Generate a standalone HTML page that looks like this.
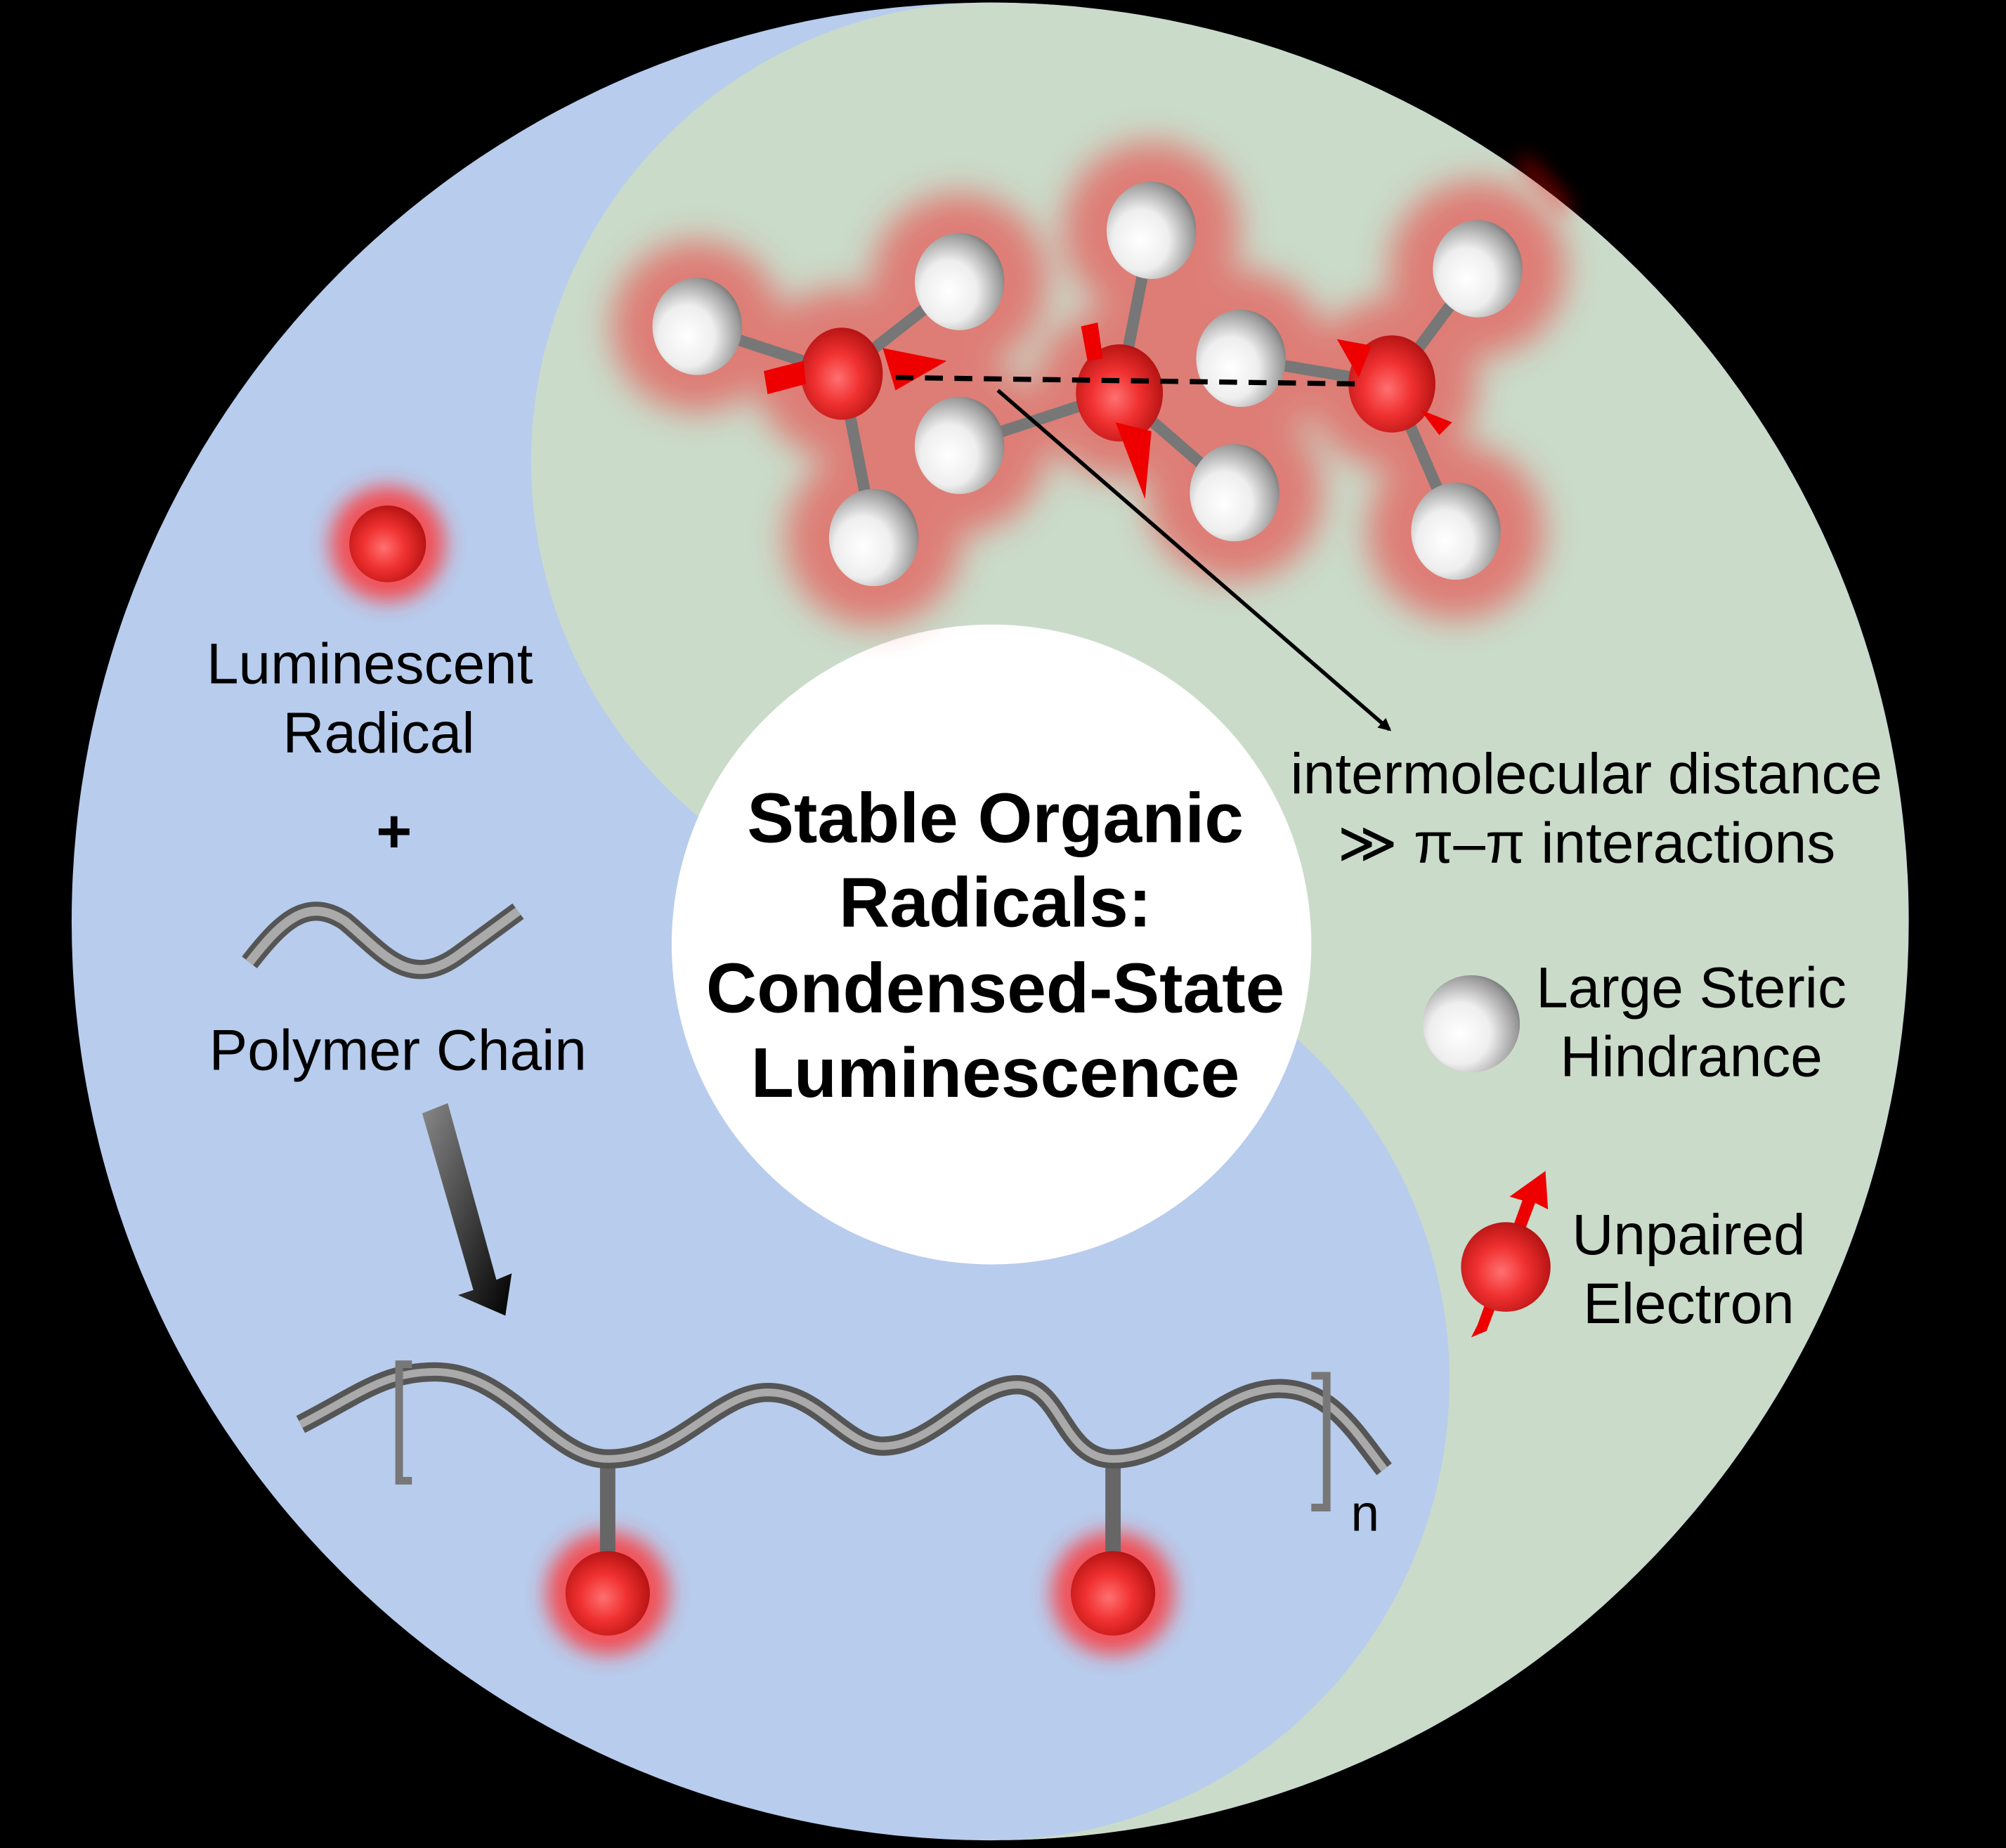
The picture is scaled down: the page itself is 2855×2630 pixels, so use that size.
<!DOCTYPE html>
<html><head><meta charset="utf-8"><style>
html,body{margin:0;padding:0;background:#000;}
svg{display:block;}
text{font-family:"Liberation Sans",Arial,sans-serif;fill:#000;}
</style></head><body>
<svg width="2855" height="2630" viewBox="0 0 1568 1444" preserveAspectRatio="none" xmlns="http://www.w3.org/2000/svg">
<defs>
<radialGradient id="wg" cx="0.38" cy="0.6" r="0.7"><stop offset="0" stop-color="#fff"/><stop offset="0.45" stop-color="#eee"/><stop offset="0.85" stop-color="#999"/><stop offset="1" stop-color="#666"/></radialGradient>
<radialGradient id="rg" cx="0.45" cy="0.55" r="0.7"><stop offset="0" stop-color="#ff7070"/><stop offset="0.4" stop-color="#f03030"/><stop offset="0.85" stop-color="#b01010"/><stop offset="1" stop-color="#700"/></radialGradient>
<linearGradient id="bigarr" x1="0" y1="0" x2="1" y2="1"><stop offset="0" stop-color="#888"/><stop offset="1" stop-color="#000"/></linearGradient>
<filter id="blur" x="-50%" y="-50%" width="200%" height="200%"><feGaussianBlur stdDeviation="13"/></filter>
<filter id="blur2" x="-50%" y="-50%" width="200%" height="200%"><feGaussianBlur stdDeviation="8"/></filter>
<marker id="ah" markerWidth="10" markerHeight="10" refX="8" refY="5" orient="auto" markerUnits="userSpaceOnUse"><path d="M0,0 L10,5 L0,10 Z" fill="#000"/></marker>
</defs>
<rect width="1568" height="1444" fill="#000"/>
<circle cx="774" cy="720" r="718" fill="#b8cced"/>
<path d="M774,2 A718,718 0 0 1 774,1438 A359,359 0 0 0 774,720 A359,359 0 0 1 774,2 Z" fill="#cadbca"/>
<path d="M1190,125 A718,718 0 0 1 1225,165" stroke="#f00" stroke-width="5" fill="none" filter="url(#blur2)"/>
<circle cx="775" cy="738" r="250" fill="#fff"/>

<g filter="url(#blur)" opacity="0.55" stroke="#ee3333" fill="#ee3333" stroke-width="50" stroke-linecap="round">
<line x1="545" y1="255" x2="658" y2="292"/><line x1="658" y1="292" x2="750" y2="220"/><line x1="658" y1="292" x2="683" y2="420"/>
<line x1="750" y1="348" x2="875" y2="307"/><line x1="875" y1="307" x2="900" y2="180"/><line x1="875" y1="307" x2="965" y2="385"/>
<line x1="1088" y1="300" x2="1155" y2="210"/><line x1="1088" y1="300" x2="1138" y2="415"/><line x1="970" y1="280" x2="1088" y2="300"/>
<circle cx="545" cy="255" r="42"/><circle cx="750" cy="220" r="44"/><circle cx="900" cy="180" r="44"/><circle cx="1155" cy="210" r="44"/>
<circle cx="970" cy="280" r="44"/><circle cx="750" cy="348" r="44"/><circle cx="683" cy="420" r="44"/><circle cx="965" cy="385" r="44"/><circle cx="1138" cy="415" r="44"/>
<circle cx="658" cy="292" r="42"/><circle cx="875" cy="307" r="42"/><circle cx="1088" cy="300" r="42"/>
</g>
<g stroke="#777" stroke-width="9">
<line x1="545" y1="255" x2="658" y2="292"/><line x1="658" y1="292" x2="750" y2="220"/><line x1="658" y1="292" x2="683" y2="420"/>
<line x1="750" y1="348" x2="875" y2="307"/><line x1="875" y1="307" x2="900" y2="180"/><line x1="875" y1="307" x2="965" y2="385"/>
<line x1="1088" y1="300" x2="1155" y2="210"/><line x1="1088" y1="300" x2="1138" y2="415"/><line x1="970" y1="280" x2="1088" y2="300"/>
</g>
<g fill="url(#wg)">
<ellipse cx="545" cy="255" rx="35" ry="38"/><ellipse cx="750" cy="220" rx="35" ry="38"/><ellipse cx="900" cy="180" rx="35" ry="38"/><ellipse cx="1155" cy="210" rx="35" ry="38"/>
<ellipse cx="970" cy="280" rx="35" ry="38"/><ellipse cx="750" cy="348" rx="35" ry="38"/><ellipse cx="683" cy="420" rx="35" ry="38"/><ellipse cx="965" cy="385" rx="35" ry="38"/><ellipse cx="1138" cy="415" rx="35" ry="38"/>
</g>
<g fill="url(#rg)">
<ellipse cx="658" cy="292" rx="32" ry="36"/><ellipse cx="875" cy="307" rx="34" ry="38"/><ellipse cx="1088" cy="300" rx="34" ry="38"/>
</g>
<g fill="#e00">
<polygon points="597,290 628,282 630,300 600,308"/><polygon points="690,272 740,282 700,305"/>
<polygon points="845,255 858,252 862,280 850,282"/><polygon points="872,330 900,337 895,390"/>
<polygon points="1045,265 1072,270 1062,295"/><polygon points="1110,320 1135,330 1125,340"/>
</g>
<line x1="700" y1="295" x2="1062" y2="300" stroke="#000" stroke-width="4" stroke-dasharray="14,9"/>
<line x1="780" y1="305" x2="1086" y2="570" stroke="#000" stroke-width="3" marker-end="url(#ah)"/>

<g font-weight="bold" font-size="55" text-anchor="middle">
<text x="778" y="658">Stable Organic</text>
<text x="778" y="724">Radicals:</text>
<text x="778" y="791">Condensed-State</text>
<text x="778" y="857">Luminescence</text>
</g>

<circle cx="303" cy="425" r="45" fill="#f33" filter="url(#blur2)" opacity="0.8"/>
<circle cx="303" cy="425" r="30" fill="url(#rg)"/>
<g font-size="45" text-anchor="middle">
<text x="289" y="534">Luminescent</text>
<text x="296" y="588">Radical</text>
<text x="311" y="836">Polymer Chain</text>
</g>
<text x="308" y="666" font-size="48" font-weight="bold" text-anchor="middle">+</text>
<path d="M195,752 C220,720 240,700 270,720 C300,745 320,775 360,745 L405,712" fill="none" stroke="#555" stroke-width="15"/>
<path d="M195,752 C220,720 240,700 270,720 C300,745 320,775 360,745 L405,712" fill="none" stroke="#aaa" stroke-width="7"/>
<polygon points="330,870 350,862 388,1000 400,995 395,1028 358,1012 370,1008" fill="url(#bigarr)"/>

<circle cx="475" cy="1245" r="48" fill="#f33" filter="url(#blur2)" opacity="0.8"/>
<circle cx="870" cy="1245" r="48" fill="#f33" filter="url(#blur2)" opacity="0.8"/>
<line x1="475" y1="1140" x2="475" y2="1225" stroke="#666" stroke-width="12"/>
<line x1="870" y1="1140" x2="870" y2="1225" stroke="#666" stroke-width="12"/>
<path d="M235,1113 C280,1090 300,1072 340,1072 C400,1072 430,1140 475,1140 C530,1140 560,1088 600,1088 C640,1088 660,1130 690,1130 C730,1130 760,1082 795,1082 C830,1082 830,1140 870,1140 C920,1140 950,1085 1000,1085 C1040,1085 1060,1120 1082,1148" fill="none" stroke="#555" stroke-width="15"/>
<path d="M235,1113 C280,1090 300,1072 340,1072 C400,1072 430,1140 475,1140 C530,1140 560,1088 600,1088 C640,1088 660,1130 690,1130 C730,1130 760,1082 795,1082 C830,1082 830,1140 870,1140 C920,1140 950,1085 1000,1085 C1040,1085 1060,1120 1082,1148" fill="none" stroke="#aaa" stroke-width="6"/>
<path d="M322,1066 L312,1066 L312,1157 L322,1157" fill="none" stroke="#777" stroke-width="6"/>
<path d="M1025,1075 L1037,1075 L1037,1178 L1025,1178" fill="none" stroke="#777" stroke-width="6"/>
<circle cx="475" cy="1245" r="33" fill="url(#rg)"/>
<circle cx="870" cy="1245" r="33" fill="url(#rg)"/>
<text x="1067" y="1196" font-size="40" text-anchor="middle">n</text>

<g font-size="45" text-anchor="middle">
<text x="1240" y="620">intermolecular distance</text>
<text x="1240" y="674">≫ π–π interactions</text>
<text x="1322" y="787">Large Steric</text>
<text x="1322" y="841">Hindrance</text>
<text x="1320" y="980">Unpaired</text>
<text x="1320" y="1034">Electron</text>
</g>
<ellipse cx="1150" cy="800" rx="38" ry="38" fill="url(#wg)"/>
<polygon points="1150,1045 1162,1040 1200,940 1210,945 1208,915 1180,935 1190,938 1155,1035" fill="#e00"/>
<circle cx="1177" cy="990" r="35" fill="url(#rg)"/>
</svg>
</body></html>
